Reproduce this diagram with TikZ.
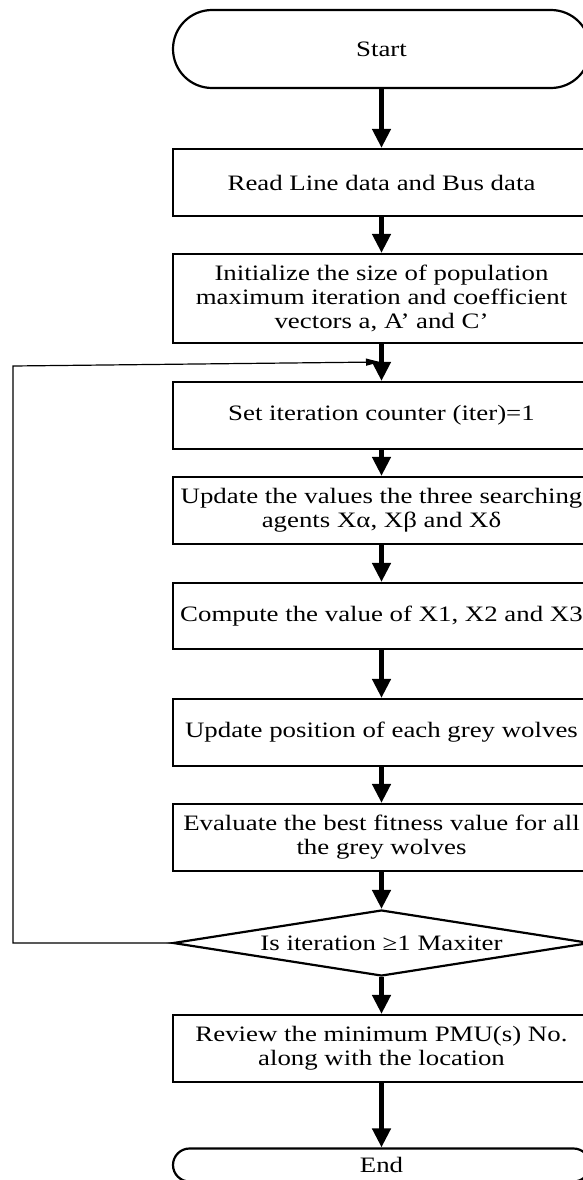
\documentclass[tikz,border=0pt]{standalone}
\usepackage{fontspec}
\setmainfont{Liberation Serif}[FakeStretch=1.22]
\usetikzlibrary{arrows.meta,shapes.geometric}
\begin{document}
\begin{tikzpicture}[
  x=1pt, y=-1pt,
  procbox/.style={draw, line width=2.2pt, align=center, inner sep=2pt, minimum width=417pt, minimum height=67pt, font=\fontsize{22}{24}\selectfont},
  termbox/.style={procbox, rounded corners=39pt, minimum height=78pt},
  decision/.style={draw, diamond, line width=2.2pt, aspect=6.3, inner sep=0pt, minimum width=417pt, minimum height=66pt, font=\fontsize{22}{24}\selectfont},
  arrow/.style={-{Triangle[length=19pt,width=18pt]}, line width=4.5pt},
  looparrow/.style={-{Triangle[length=14pt,width=7pt]}, line width=1.2pt}
]
\useasboundingbox (0,0) rectangle (582,1180);
\node[termbox] (start) at (381.5,49) {Start};
\node[procbox] (readdata) at (381.5,182.5) {Read Line data and Bus data};
\node[procbox, minimum height=89pt] (init) at (381.5,298.5) {Initialize the size of population\\maximum iteration and coefficient\\vectors a, A’ and C’};
\node[procbox] (setiter) at (381.5,415.5) {Set iteration counter (iter)=1};
\node[procbox] (agents) at (381.5,510.5) {Update the values the three searching\\agents Xα, Xβ and Xδ};
\node[procbox, minimum height=66pt] (compute) at (381.5,616) {Compute the value of X1, X2 and X3};
\node[procbox] (position) at (381.5,732.5) {Update position of each grey wolves};
\node[procbox] (fitness) at (381.5,837.5) {Evaluate the best fitness value for all\\the grey wolves};
\node[decision] (check) at (381.5,943) {Is iteration ≥1 Maxiter};
\node[procbox] (review) at (381.5,1048.5) {Review the minimum PMU(s) No.\\along with the location};
\node[termbox, rounded corners=16.5pt, minimum height=33pt] (stop) at (381.5,1165) {End};

\coordinate (loopturn) at (13,366);
\coordinate (merge) at (380,362);

\draw[arrow] (start) -- (readdata);
\draw[arrow] (readdata) -- (init);
\draw[arrow] (init) -- (setiter);
\draw[arrow] (setiter) -- (agents);
\draw[arrow] (agents) -- (compute);
\draw[arrow] (compute) -- (position);
\draw[arrow] (position) -- (fitness);
\draw[arrow] (fitness) -- (check);
\draw[arrow] (check) -- (review);
\draw[arrow] (review) -- (stop);
\draw[looparrow] (check.west) -- (check.west -| loopturn) -- (loopturn) -- (merge);
\end{tikzpicture}
\end{document}
